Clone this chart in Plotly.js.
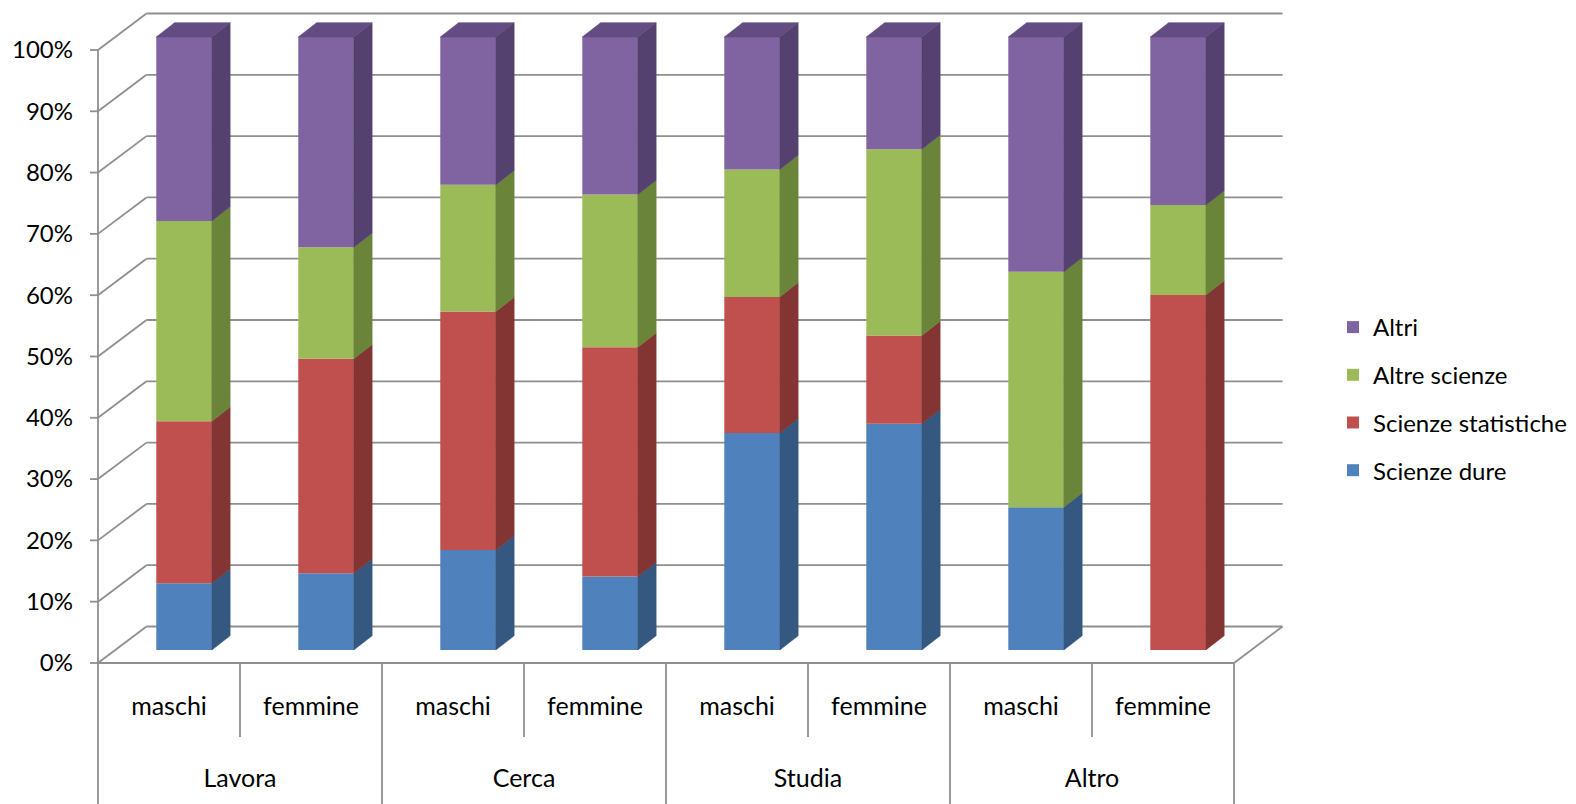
<!DOCTYPE html>
<html>
<head>
<meta charset="utf-8">
<script src="https://cdn.plot.ly/plotly-3.0.1.min.js"></script>
<style>html,body{margin:0;padding:0;background:#fff;}</style>
</head>
<body>
<div id="chart" style="width:1576px;height:804px;"></div>
<script>
// ---------- data ----------
const groups  = ['Lavora', 'Lavora', 'Cerca', 'Cerca', 'Studia', 'Studia', 'Altro', 'Altro'];
const genders = ['maschi', 'femmine', 'maschi', 'femmine', 'maschi', 'femmine', 'maschi', 'femmine'];
const scienzeDure        = [10.9, 12.5, 16.3, 12.0, 35.4, 36.9, 23.3, 0.0];
const scienzeStatistiche = [26.4, 35.0, 38.9, 37.4, 22.2, 14.4, 0.0, 57.9];
const altreScienze       = [32.7, 18.2, 20.7, 24.9, 20.8, 30.4, 38.4, 14.7];
const altri              = [30.0, 34.3, 24.1, 25.7, 21.6, 18.3, 38.3, 27.4];
const seriesNames = ['Scienze dure', 'Scienze statistiche', 'Altre scienze', 'Altri'];
const yTickVals = [0, 10, 20, 30, 40, 50, 60, 70, 80, 90, 100];
const yTickText = ['0%', '10%', '20%', '30%', '40%', '50%', '60%', '70%', '80%', '90%', '100%'];

// ---------- styles / geometry ----------
const FONT = 'Lato, "Open Sans", sans-serif';
const frontColors = ['#4F81BD', '#C0504D', '#9BBB59', '#8064A2'];
const sideColors  = ['#34587F', '#833533', '#6A8539', '#54416F'];
const topColor = '#624C82';
const GRID = '#8f8f8f';

const X_RANGE = [-0.521, 7.859];
const Y_RANGE = [-0.33, 107.34];
const M = {l: 95, r: 291, t: 5, b: 139};
const PLOT_W = 1576 - M.l - M.r, PLOT_H = 804 - M.t - M.b;

// oblique-projection offsets (axis units)
const WALL_DX = 0.3415, WALL_DY = 5.95;   // full depth of the box
const BAR_DX0 = 0.106,  BAR_DY0 = 2.12;   // front face of the columns
const SIDE_DX = 0.129,  SIDE_DY = 2.33;   // depth of the columns
const BAR_W = 0.391;

const pxToPaperX = px => (px - M.l) / PLOT_W;
const pxToPaperY = py => (804 - M.b - py) / PLOT_H;

const allSeries = [scienzeDure, scienzeStatistiche, altreScienze, altri];
const idx = groups.map((_, i) => i);

// outer category groups and their centres
const groupNames = [...new Set(groups)];
const groupCenters = groupNames.map(g => {
  const ii = idx.filter(i => groups[i] === g);
  return ii.reduce((a, b) => a + b, 0) / ii.length;
});

const traces = [];
const cum = idx.map(() => 0);
allSeries.forEach((vals, s) => {
  const bases = cum.slice();
  traces.push({
    type: 'bar', name: seriesNames[s], legendgroup: seriesNames[s],
    legendrank: allSeries.length - s,
    x: idx.map(i => i + BAR_DX0), y: vals, base: bases.map(b => b + BAR_DY0),
    width: BAR_W, marker: {color: frontColors[s], line: {width: 0}},
    hoverinfo: 'skip', xaxis: 'x', yaxis: 'y'
  });
  // right side faces
  const sx = [], sy = [];
  idx.forEach(i => {
    if (vals[i] <= 0) return;
    const xr = i + BAR_DX0 + BAR_W / 2;
    const b = bases[i] + BAR_DY0, t = b + vals[i];
    sx.push(xr, xr + SIDE_DX, xr + SIDE_DX, xr, xr, null);
    sy.push(b, b + SIDE_DY, t + SIDE_DY, t, b, null);
  });
  traces.push({
    type: 'scatter', mode: 'lines', x: sx, y: sy, fill: 'toself',
    fillcolor: sideColors[s], line: {width: 0.6, color: sideColors[s]},
    showlegend: false, hoverinfo: 'skip', xaxis: 'x', yaxis: 'y'
  });
  idx.forEach(i => { cum[i] += vals[i]; });
});
// top faces
{
  const tx = [], ty = [];
  idx.forEach(i => {
    const xl = i + BAR_DX0 - BAR_W / 2, xr = i + BAR_DX0 + BAR_W / 2;
    const t = cum[i] + BAR_DY0;
    tx.push(xl, xr, xr + SIDE_DX, xl + SIDE_DX, xl, null);
    ty.push(t, t, t + SIDE_DY, t + SIDE_DY, t, null);
  });
  traces.push({
    type: 'scatter', mode: 'lines', x: tx, y: ty, fill: 'toself',
    fillcolor: topColor, line: {width: 0.6, color: topColor},
    showlegend: false, hoverinfo: 'skip', xaxis: 'x', yaxis: 'y'
  });
}
// invisible carriers for the two label axes
traces.push({type: 'scatter', mode: 'markers', x: idx, y: idx.map(() => 0),
  marker: {opacity: 0}, showlegend: false, hoverinfo: 'skip', xaxis: 'x2', yaxis: 'y'});
traces.push({type: 'scatter', mode: 'markers', x: groupCenters, y: groupCenters.map(() => 0),
  marker: {opacity: 0}, showlegend: false, hoverinfo: 'skip', xaxis: 'x3', yaxis: 'y'});

// ---------- 3D frame ----------
const shapes = [];
const gl = {color: GRID, width: 1.8};
yTickVals.forEach(v => {
  shapes.push({type: 'line', layer: 'below', xref: 'x', yref: 'y',
    x0: -0.5, y0: v, x1: -0.5 + WALL_DX, y1: v + WALL_DY, line: gl});
  shapes.push({type: 'line', layer: 'below', xref: 'x', yref: 'y',
    x0: -0.5 + WALL_DX, y0: v + WALL_DY, x1: 7.5 + WALL_DX, y1: v + WALL_DY, line: gl});
  // tick marks on the front axis
  shapes.push({type: 'line', layer: 'below', xref: 'paper', yref: 'y',
    x0: pxToPaperX(90), y0: v, x1: pxToPaperX(98), y1: v, line: gl});
});
// front vertical axis
shapes.push({type: 'line', layer: 'below', xref: 'x', yref: 'y',
  x0: -0.5, y0: 0, x1: -0.5, y1: 100, line: gl});
// floor front and right edges
shapes.push({type: 'line', layer: 'below', xref: 'x', yref: 'y',
  x0: -0.5, y0: 0, x1: 7.5, y1: 0, line: gl});
shapes.push({type: 'line', layer: 'below', xref: 'x', yref: 'y',
  x0: 7.5, y0: 0, x1: 7.5 + WALL_DX, y1: WALL_DY, line: gl});
// category table lines
idx.forEach(i => {
  const xb = i + 0.5;
  if (i % 2 === 0) {
    shapes.push({type: 'line', xref: 'x', yref: 'paper',
      x0: xb, y0: pxToPaperY(663), x1: xb, y1: pxToPaperY(737), line: gl});
  }
});
[-0.5, 1.5, 3.5, 5.5, 7.5].forEach(xb => {
  shapes.push({type: 'line', xref: 'x', yref: 'paper',
    x0: xb, y0: pxToPaperY(663), x1: xb, y1: pxToPaperY(806), line: gl});
});

const labelAxis = (vals, text, standoff) => ({
  type: 'linear', overlaying: 'x', anchor: 'y', side: 'bottom',
  range: X_RANGE, tickmode: 'array', tickvals: vals, ticktext: text,
  showline: false, ticks: '', showgrid: false, zeroline: false,
  automargin: false, fixedrange: true,
  tickfont: {family: FONT, size: 25, color: '#000'}, ticklabelstandoff: standoff
});

const layout = {
  width: 1576, height: 804,
  margin: {l: M.l, r: M.r, t: M.t, b: M.b, autoexpand: false},
  paper_bgcolor: '#ffffff', plot_bgcolor: 'rgba(0,0,0,0)',
  barmode: 'overlay', showlegend: true,
  font: {family: FONT, color: '#000'},
  xaxis: {type: 'linear', range: X_RANGE, visible: false, fixedrange: true},
  xaxis2: labelAxis(idx, genders, 24),
  xaxis3: labelAxis(groupCenters, groupNames, 96),
  yaxis: {
    range: Y_RANGE, tickvals: yTickVals, ticktext: yTickText,
    ticks: '', showgrid: false, zeroline: false, showline: false,
    automargin: false, fixedrange: true,
    tickfont: {family: FONT, size: 24, color: '#000'}, ticklabelstandoff: 21
  },
  legend: {
    x: pxToPaperX(1333), xanchor: 'left', y: pxToPaperY(399), yanchor: 'middle',
    traceorder: 'grouped', tracegroupgap: 13.5,
    font: {family: FONT, size: 24, color: '#000'}, bgcolor: 'rgba(0,0,0,0)'
  },
  shapes: shapes
};

Plotly.newPlot('chart', traces, layout, {displayModeBar: false, staticPlot: true});
</script>
</body>
</html>
